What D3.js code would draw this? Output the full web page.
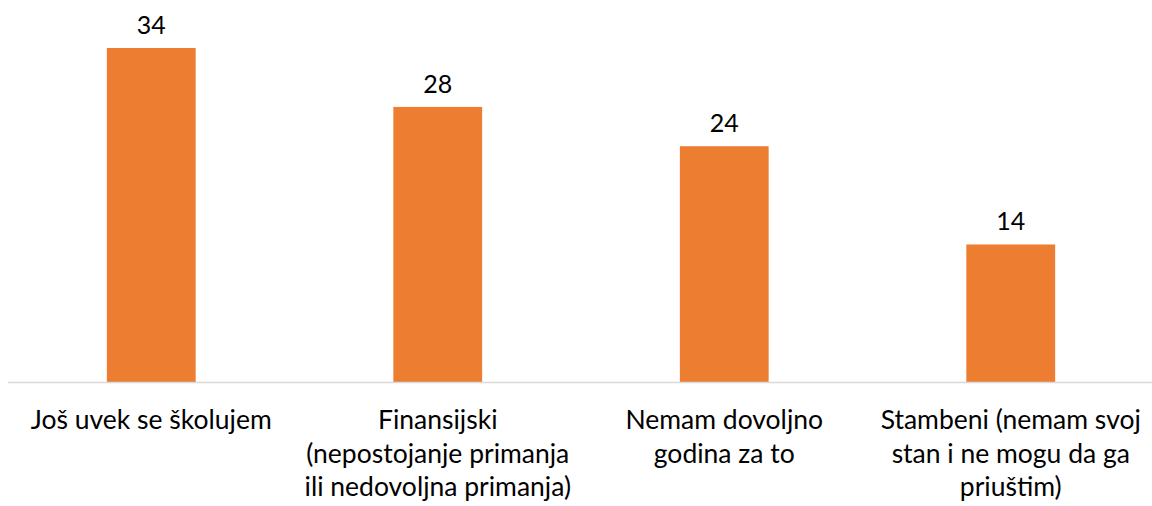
<!DOCTYPE html>
<html>
<head>
<meta charset="utf-8">
<script src="https://cdn.jsdelivr.net/npm/d3@7"></script>
<style>
  body { margin: 0; background: #fff; }
  text { font-family: Lato, "Open Sans", sans-serif; fill: #000; }
  .cat-label { font-size: 26.5px; }
  .value-label { font-size: 25px; }
</style>
</head>
<body>
<div id="chart"></div>
<script>
var categories = [
    ["Još uvek se školujem"],
    ["Finansijski", "(nepostojanje primanja", "ili nedovoljna primanja)"],
    ["Nemam dovoljno", "godina za to"],
    ["Stambeni (nemam svoj", "stan i ne mogu da ga", "priuštim)"]
];
var values = [34, 28, 24, 14];

var width = 1152, height = 506;
var margin = { top: 48, right: 0, bottom: 124, left: 8 };

var svg = d3.select('#chart')
    .append('svg')
    .attr('width', width)
    .attr('height', height);

var xScale = d3.scaleBand()
    .domain(d3.range(values.length))
    .range([margin.left, 1154])
    .paddingInner(0.69)
    .paddingOuter(0.345);

var yScale = d3.scaleLinear()
    .domain([0, 34])
    .range([height - margin.bottom, margin.top]);

// bars
svg.selectAll('.bar')
    .data(values)
    .enter()
    .append('rect')
    .attr('class', 'bar')
    .attr('x', function(d, i) { return xScale(i); })
    .attr('y', function(d) { return yScale(d); })
    .attr('width', xScale.bandwidth())
    .attr('height', function(d) { return yScale(0) - yScale(d); })
    .attr('fill', '#ED7D31');

// baseline
svg.append('line')
    .attr('x1', margin.left)
    .attr('x2', width)
    .attr('y1', yScale(0) + 0.5)
    .attr('y2', yScale(0) + 0.5)
    .attr('stroke', '#D9D9D9')
    .attr('stroke-width', 1.5);

// value labels
svg.selectAll('.value-label')
    .data(values)
    .enter()
    .append('text')
    .attr('class', 'value-label')
    .attr('text-anchor', 'middle')
    .attr('x', function(d, i) { return xScale(i) + xScale.bandwidth() / 2; })
    .attr('y', function(d) { return yScale(d) - 14; })
    .text(function(d) { return d; });

// category labels, multi-line
svg.selectAll('.cat-label')
    .data(categories)
    .enter()
    .append('text')
    .attr('class', 'cat-label')
    .attr('text-anchor', 'middle')
    .attr('transform', function(d, i) {
        return "translate(" + (xScale(i) + xScale.bandwidth() / 2) + "," + (yScale(0) + 47) + ")";
    })
    .selectAll('tspan')
    .data(function(d) { return d; })
    .enter()
    .append('tspan')
    .attr('x', 0)
    .attr('y', function(d, i) { return i * 33.5; })
    .text(function(d) { return d; });
</script>
</body>
</html>
